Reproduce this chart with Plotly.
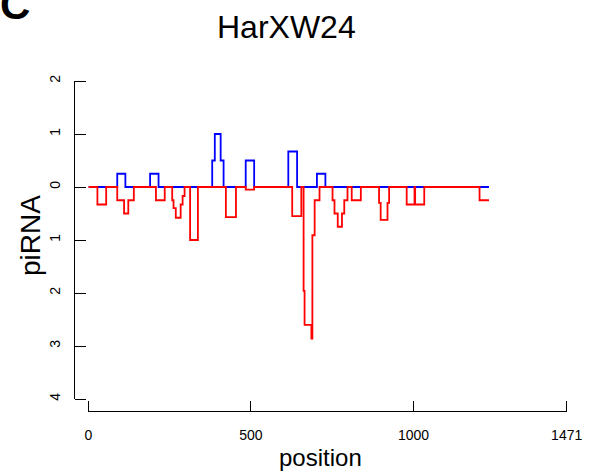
import plotly.graph_objects as go

# ---- data ----
red_pos = [1, 28, 55, 89, 110, 123, 140, 208, 235, 258, 262, 269, 284, 290, 296,
           313, 337, 423, 454, 484, 510, 627, 655, 662, 665, 686, 689, 696, 711,
           751, 757, 767, 780, 787, 797, 810, 838, 894, 899, 920, 925, 979, 1003,
           1005, 1033, 1203, 1232]
red_val = [0, -0.33, 0, -0.25, -0.5, -0.25, 0, -0.25, 0, -0.25, -0.4, -0.58, -0.33,
           -0.17, 0, -1.0, 0, -0.57, 0, -0.05, 0, -0.55, 0, -1.96, -2.6, -2.86,
           -0.91, -0.25, 0, -0.25, -0.5, -0.75, -0.5, -0.25, 0, -0.25, 0, -0.3,
           -0.62, -0.3, 0, -0.33, 0, -0.33, 0, -0.25, -0.25]

blue_pos = [1, 89, 114, 190, 216, 381, 389, 407, 416, 484, 510, 615, 642, 703, 729, 1232]
blue_val = [0, 0.25, 0, 0.25, 0, 0.5, 1.0, 0.5, 0, 0.5, 0, 0.67, 0, 0.25, 0, 0]

x_tickvals = [0, 500, 1000, 1471]
x_ticktext = ["0", "500", "1000", "1471"]
y_tickvals = [2, 1, 0, -1, -2, -3, -4]
y_ticktext = ["2", "1", "0", "1", "2", "3", "4"]

title_text = "HarXW24"
panel_label = "C"
x_label = "position"
y_label = "piRNA"

W, H = 608, 474
FONT = "Liberation Sans, Arial, Helvetica, sans-serif"
LW = 1.3

# pixel layout (R-style detached axes)
px_x0, px_x1 = 88.3, 566.7      # x = 0 .. 1471
px_y2, px_ym4 = 81.0, 399.0     # y = 2 .. -4
px_xaxis = 411.0                # vertical pixel of x-axis line
px_yaxis = 75.0                 # horizontal pixel of y-axis line
tick_len_x, tick_len_y = 10.0, 11.0
pad = 3.0                       # extra pixels so edge ticks sit inside the strips

x_min, x_max = x_tickvals[0], x_tickvals[-1]
y_min, y_max = y_tickvals[-1], y_tickvals[0]
ux = (px_x1 - px_x0) / (x_max - x_min)
uy = (px_ym4 - px_y2) / (y_max - y_min)
x_lo = x_min - (px_x0 - px_yaxis) / ux
y_lo = y_min - (px_xaxis - px_ym4) / uy

fig = go.Figure()
fig.add_trace(go.Scatter(x=blue_pos, y=blue_val, mode="lines", line_shape="hv",
                         line=dict(color="#0000FF", width=1.8), hoverinfo="skip"))
fig.add_trace(go.Scatter(x=red_pos, y=red_val, mode="lines", line_shape="hv",
                         line=dict(color="#FF0000", width=1.8), hoverinfo="skip"))
# empty traces so the helper axes get drawn
fig.add_trace(go.Scatter(x=[], y=[], xaxis="x2", yaxis="y", hoverinfo="skip"))
fig.add_trace(go.Scatter(x=[], y=[], xaxis="x", yaxis="y2", hoverinfo="skip"))
fig.add_trace(go.Scatter(x=[], y=[], xaxis="x3", yaxis="y3", hoverinfo="skip"))
fig.add_trace(go.Scatter(x=[], y=[], xaxis="x4", yaxis="y4", hoverinfo="skip"))

blank = dict(showline=False, ticks="", showticklabels=False, zeroline=False,
             automargin=False, fixedrange=True)

fig.update_layout(
    width=W, height=H,
    margin=dict(l=0, r=0, t=0, b=0),
    paper_bgcolor="white", plot_bgcolor="rgba(0,0,0,0)",
    showlegend=False,
    template="none",
    font=dict(family=FONT, color="black"),
    # main axes: tick labels
    xaxis=dict(
        domain=[px_yaxis / W, px_x1 / W], range=[x_lo, x_max], anchor="y",
        showline=False, ticks="",
        tickmode="array", tickvals=x_tickvals, ticktext=x_ticktext,
        tickfont=dict(family=FONT, size=14, color="black"),
        showgrid=False, zeroline=False, automargin=False,
        ticklabelstandoff=14,
    ),
    yaxis=dict(
        domain=[1 - px_xaxis / H, 1 - px_y2 / H], range=[y_lo, y_max], anchor="x",
        showline=False, ticks="",
        tickmode="array", tickvals=y_tickvals, ticktext=y_ticktext, tickangle=-90,
        tickfont=dict(family=FONT, size=14, color="black"),
        showgrid=False, zeroline=False, automargin=False,
        ticklabelstandoff=11,
    ),
    # axis lines spanning first..last tick
    xaxis2=dict(
        domain=[px_x0 / W, px_x1 / W], range=[x_min, x_max], anchor="y",
        showline=True, linecolor="black", linewidth=LW,
        ticks="", showticklabels=False, showgrid=False, zeroline=False,
        automargin=False,
    ),
    yaxis2=dict(
        domain=[1 - px_ym4 / H, 1 - px_y2 / H], range=[y_min, y_max], anchor="x",
        showline=True, linecolor="black", linewidth=LW,
        ticks="", showticklabels=False, showgrid=False, zeroline=False,
        automargin=False,
    ),
    # tick marks of the x axis (grid lines in a thin strip above the axis line)
    xaxis3=dict(
        domain=[(px_x0 - pad) / W, (px_x1 + pad) / W],
        range=[x_min - pad / ux, x_max + pad / ux], anchor="y3",
        showgrid=True, gridcolor="black", gridwidth=LW,
        tickmode="array", tickvals=x_tickvals, **blank,
    ),
    yaxis3=dict(
        domain=[1 - px_xaxis / H, 1 - (px_xaxis - tick_len_x) / H],
        range=[0, 1], anchor="x3", showgrid=False, **blank,
    ),
    # tick marks of the y axis (grid lines in a thin strip right of the axis line)
    xaxis4=dict(
        domain=[px_yaxis / W, (px_yaxis + tick_len_y) / W],
        range=[0, 1], anchor="y4", showgrid=False, **blank,
    ),
    yaxis4=dict(
        domain=[1 - (px_ym4 + pad) / H, 1 - (px_y2 - pad) / H],
        range=[y_min - pad / uy, y_max + pad / uy], anchor="x4",
        showgrid=True, gridcolor="black", gridwidth=LW,
        tickmode="array", tickvals=y_tickvals, **blank,
    ),
    annotations=[
        dict(text=title_text, x=286 / W, y=1 - 27 / H, xref="paper", yref="paper",
             xanchor="center", yanchor="middle", showarrow=False,
             font=dict(family=FONT, size=32, color="black")),
        dict(text="<b>" + panel_label + "</b>", x=-2 / W, y=1 - 4 / H, xref="paper", yref="paper",
             xanchor="left", yanchor="middle", showarrow=False,
             font=dict(family=FONT, size=42, color="black")),
        dict(text=x_label, x=320 / W, y=1 - 457 / H, xref="paper", yref="paper",
             xanchor="center", yanchor="middle", showarrow=False,
             font=dict(family=FONT, size=24, color="black")),
        dict(text=y_label, x=30 / W, y=1 - 236 / H, xref="paper", yref="paper",
             xanchor="center", yanchor="middle", showarrow=False, textangle=-90,
             font=dict(family=FONT, size=28, color="black")),
    ],
)

fig.write_html("out.html", config={"displayModeBar": False},
               post_script="document.body.style.margin='0';document.body.style.overflow='hidden';")
